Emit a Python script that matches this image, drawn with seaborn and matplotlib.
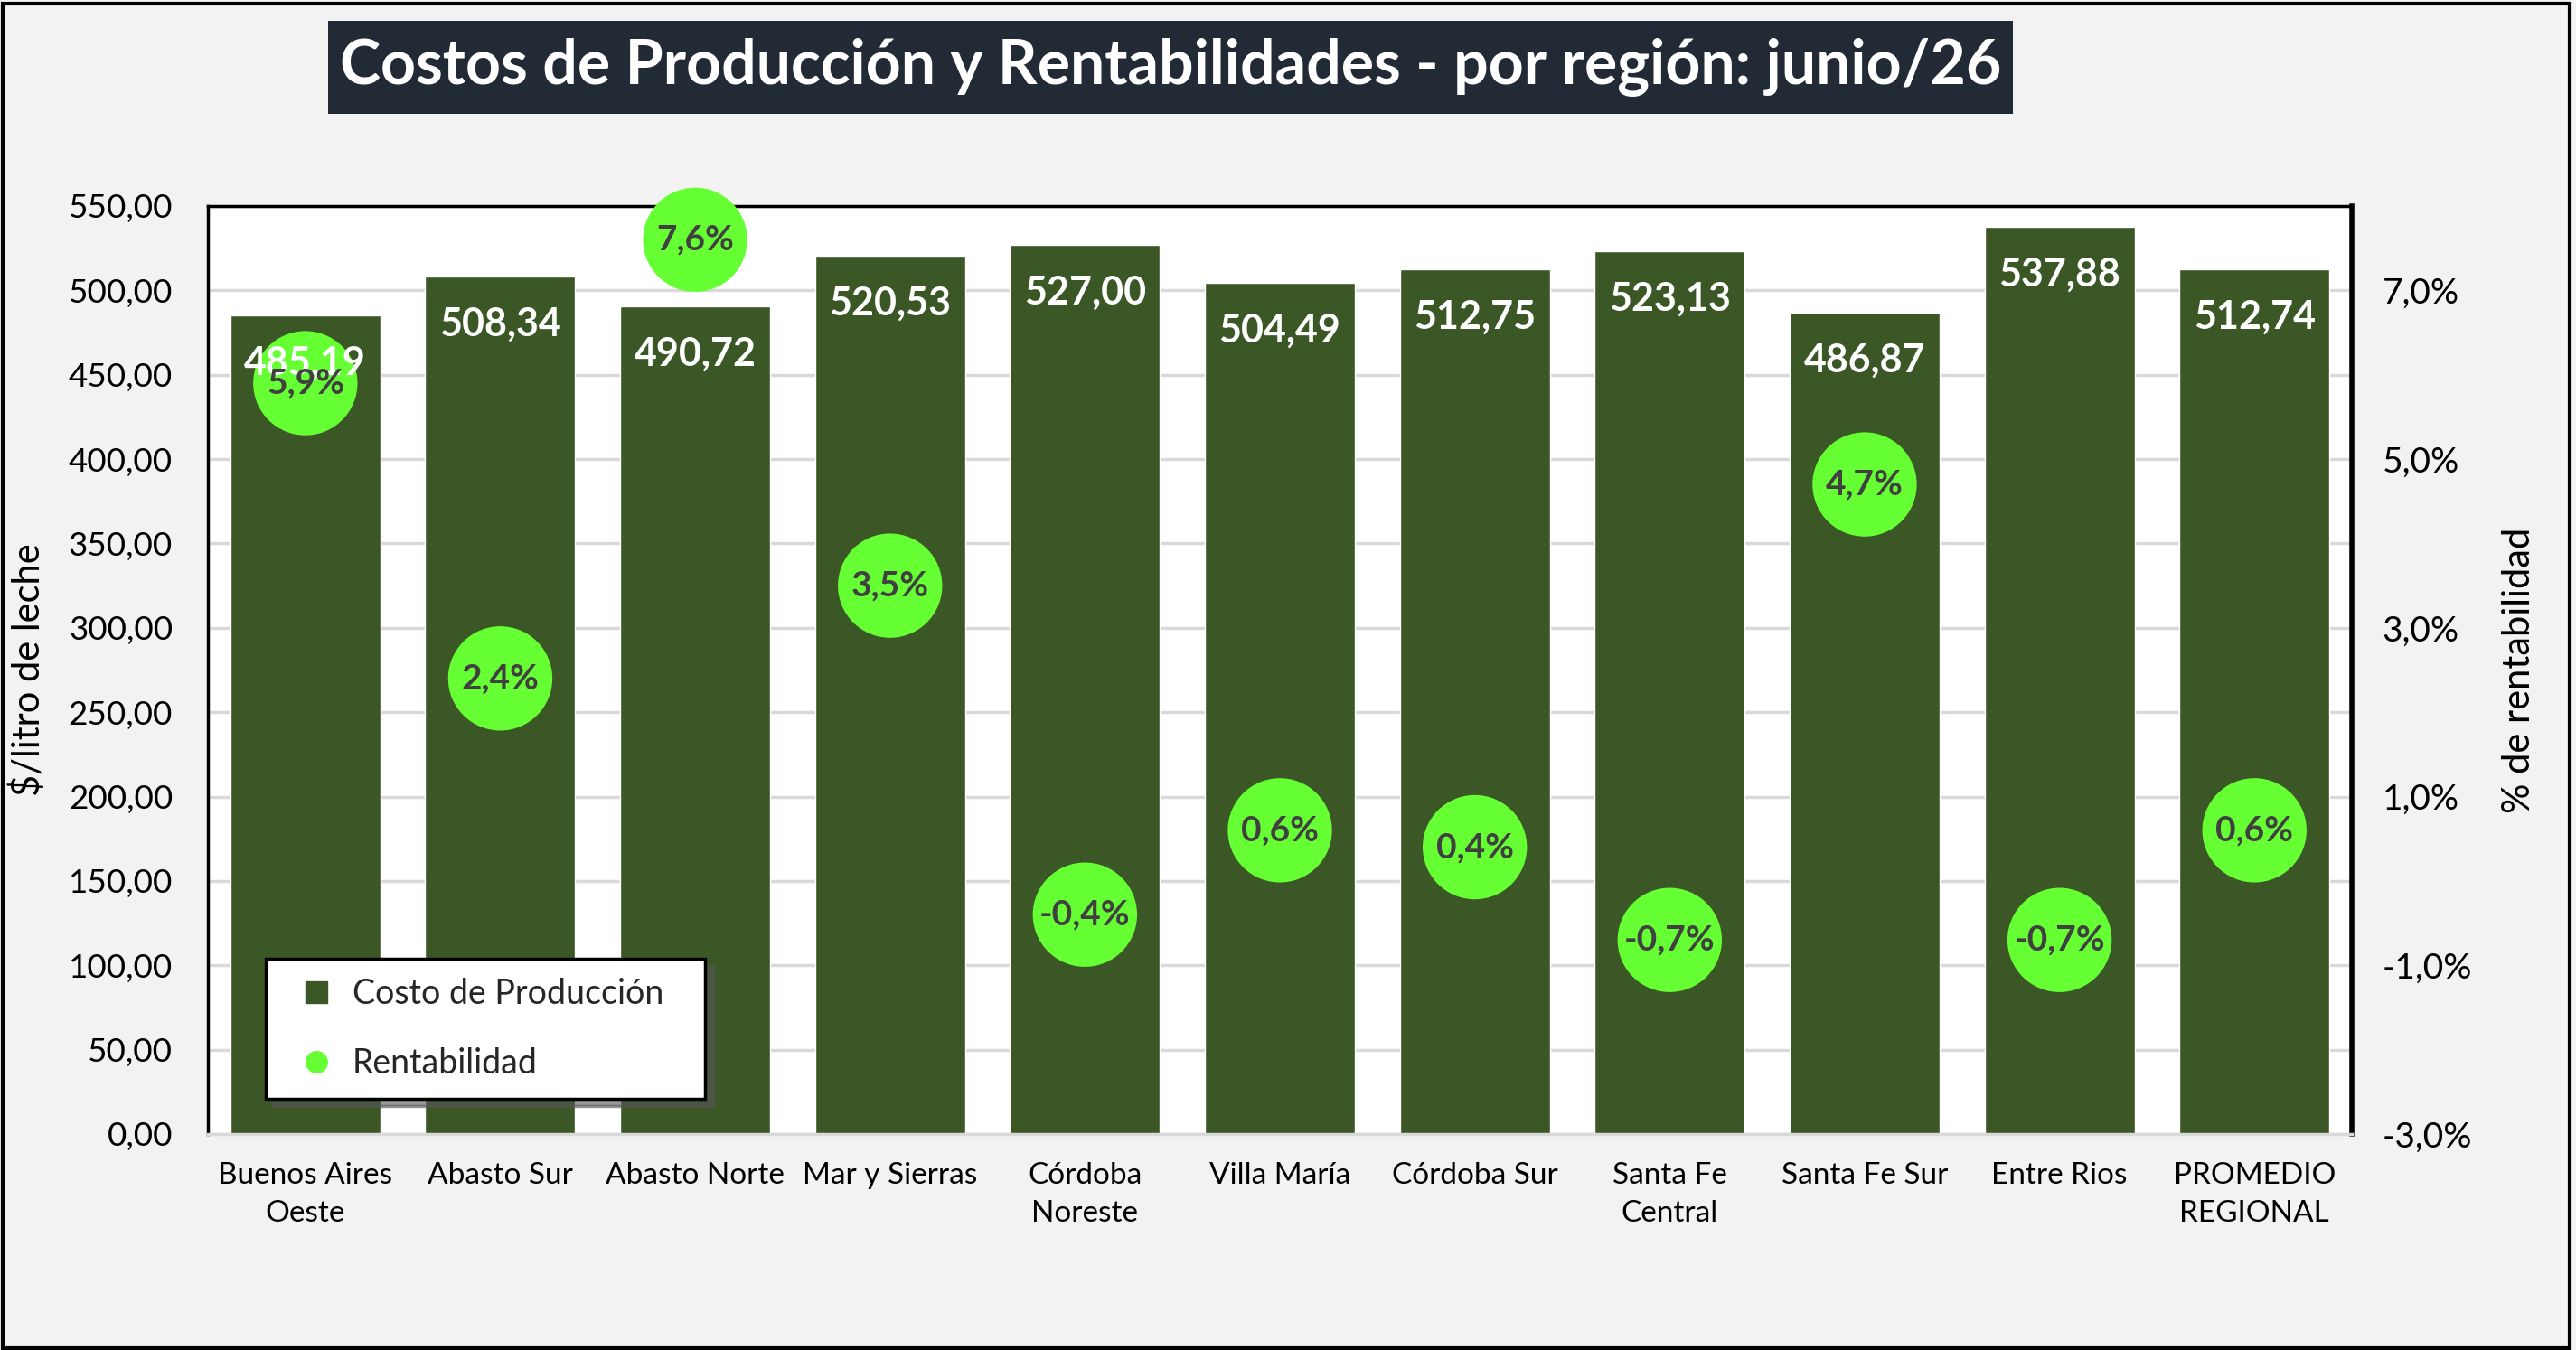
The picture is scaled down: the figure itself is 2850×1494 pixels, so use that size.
import numpy as np
import pandas as pd
import matplotlib
matplotlib.use("Agg")
import matplotlib.pyplot as plt
import seaborn as sns
from matplotlib.lines import Line2D
from matplotlib.patches import Rectangle
from matplotlib.ticker import FuncFormatter, FixedLocator

regions = ["Buenos Aires\nOeste", "Abasto Sur", "Abasto Norte", "Mar y Sierras",
           "Córdoba\nNoreste", "Villa María", "Córdoba Sur", "Santa Fe\nCentral",
           "Santa Fe Sur", "Entre Rios", "PROMEDIO\nREGIONAL"]
costos = [485.19, 508.34, 490.72, 520.53, 527.00, 504.49, 512.75, 523.13, 486.87, 537.88, 512.74]
rentabilidad = [5.9, 2.4, 7.6, 3.5, -0.4, 0.6, 0.4, -0.7, 4.7, -0.7, 0.6]
left_ticks = [0, 50, 100, 150, 200, 250, 300, 350, 400, 450, 500, 550]
right_ticks = [-3, -1, 1, 3, 5, 7]
title = "Costos de Producción y Rentabilidades - por región: junio/26"

df = pd.DataFrame({"region": regions, "costo": costos, "rent": rentabilidad})

sns.set_theme(style="white")
FONT = ["Lato", "DejaVu Sans"]
plt.rcParams["font.family"] = FONT

BAR = "#3B5726"
DOT = "#66FF33"
BG = "#F2F2F2"
GRID = "#D9D9D9"

fig = plt.figure(figsize=(28.5, 14.94), dpi=100, facecolor=BG)
ax = fig.add_axes([0.0807, 0.16, 0.913 - 0.0807, 0.8474 - 0.16])
ax.set_facecolor("white")

sns.barplot(data=df, x="region", y="costo", color=BAR, width=0.77, saturation=1,
            ax=ax, zorder=2)
ax.set_ylim(0, 550)
ax.set_xlim(-0.5, len(regions) - 0.5)
ax.yaxis.set_major_locator(FixedLocator(left_ticks))
ax.yaxis.set_major_formatter(FuncFormatter(lambda v, p: f"{v:.2f}".replace(".", ",")))
ax.grid(axis="y", color=GRID, linewidth=2.5, zorder=0)
ax.set_axisbelow(True)
ax.tick_params(axis="y", labelsize=26.5, pad=28, length=0, colors="black")
ax.tick_params(axis="x", labelsize=24, pad=22, length=0, colors="black")
ax.set_xlabel("")
ax.set_ylabel("$/litro de leche", fontsize=30, labelpad=18, color="black")
for lab in ax.get_xticklabels():
    lab.set_linespacing(1.5)

for s in ["top", "left"]:
    ax.spines[s].set_color("black")
    ax.spines[s].set_linewidth(2.5)
ax.spines["right"].set_color("black")
ax.spines["right"].set_linewidth(4)
ax.spines["bottom"].set_color(GRID)
ax.spines["bottom"].set_linewidth(2.5)

ax2 = ax.twinx()
sns.scatterplot(data=df, x="region", y="rent", color=DOT, s=6900, edgecolor="none",
                ax=ax2, zorder=3, clip_on=False)
ax2.set_ylim(-3, 8)
ax2.yaxis.set_major_locator(FixedLocator(right_ticks))
ax2.yaxis.set_major_formatter(FuncFormatter(lambda v, p: f"{v:.1f}%".replace(".", ",")))
ax2.tick_params(axis="y", labelsize=28, pad=24, length=0, colors="black")
ax2.set_ylabel("% de rentabilidad", fontsize=30, labelpad=24, color="black")
for s in ax2.spines.values():
    s.set_visible(False)

# bar value labels (white, above the dots), then dot labels
for i, v in enumerate(costos):
    ax2.annotate(f"{v:.2f}".replace(".", ","), xy=(i, v), xycoords=ax.transData,
                 xytext=(0, -38), textcoords="offset points", ha="center", va="center",
                 fontsize=31, fontweight="bold", color="white", zorder=4)
for i, r in enumerate(rentabilidad):
    ax2.annotate(f"{r:.1f}%".replace(".", ","), xy=(i, r), xytext=(0, 0),
                 textcoords="offset points", ha="center", va="center",
                 fontsize=28, fontweight="bold", color="#404040", zorder=5)

handles = [Line2D([], [], marker="s", linestyle="none", markersize=17, color=BAR,
                  label="Costo de Producción"),
           Line2D([], [], marker="o", linestyle="none", markersize=17, color=DOT,
                  label="Rentabilidad")]
leg = ax2.legend(handles=handles, loc="lower left", bbox_to_anchor=(0.027, 0.038, 0.205, 0.154),
                 mode="expand", fontsize=27, frameon=True, fancybox=False,
                 shadow={"ox": 6, "oy": -6, "color": "#555555", "alpha": 0.6},
                 handletextpad=0.1, labelspacing=1.1, borderpad=0.55, handlelength=1.9,
                 borderaxespad=0)
leg.get_frame().set_edgecolor("black")
leg.get_frame().set_linewidth(2.5)
leg.set_zorder(10)

# title box
fig.patches.append(Rectangle((0.1274, 0.9157), 0.654, 0.0689, transform=fig.transFigure,
                             facecolor="#222A35", edgecolor="none", zorder=1))
fig.text(0.1274 + 0.654 / 2, 0.9157 + 0.0689 / 2, title, ha="center", va="center",
         fontsize=49, fontweight="bold", color="white", zorder=2)

# figure border
fig.patches.append(Rectangle((0.0012, 0.0015), 0.9965, 0.996, transform=fig.transFigure,
                             facecolor="none", edgecolor="black", linewidth=3, zorder=5))

fig.savefig("out.png", dpi=100, facecolor=BG)
